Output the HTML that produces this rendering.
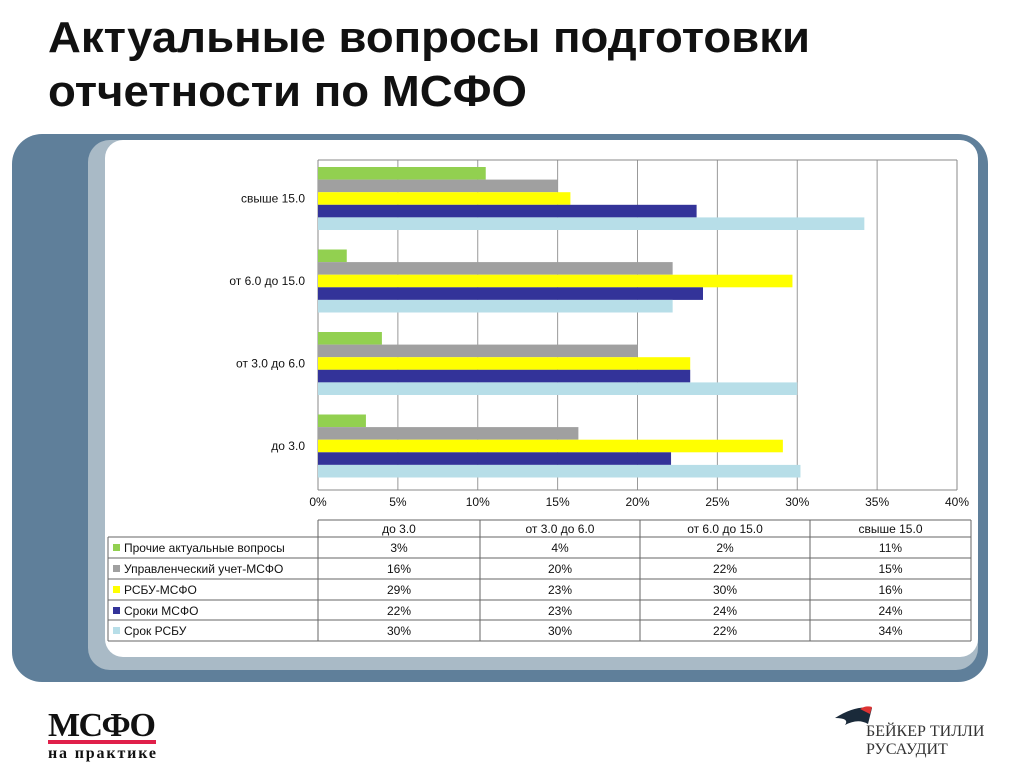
<!DOCTYPE html>
<html><head><meta charset="utf-8"><style>
body{margin:0;width:1024px;height:768px;background:#fff;overflow:hidden;font-family:"Liberation Sans","Noto Sans CJK SC",sans-serif}
</style></head><body>
<svg width="1024" height="768" xmlns="http://www.w3.org/2000/svg" font-family="Liberation Sans, sans-serif">
<g>
<text x="48" y="52" font-size="44" font-weight="bold" fill="#111" textLength="762" lengthAdjust="spacingAndGlyphs">Актуальные вопросы подготовки</text>
<text x="48" y="106" font-size="44" font-weight="bold" fill="#111" textLength="479" lengthAdjust="spacingAndGlyphs">отчетности по МСФО</text>
</g>
<rect x="12" y="134" width="976" height="548" rx="30" fill="#5f7f9a"/>
<rect x="88" y="140" width="890" height="530" rx="22" fill="#a9bac6"/>
<rect x="105" y="140" width="873" height="517" rx="18" fill="#fff"/>
<g id="chart"></g>
<g>
<text x="48" y="736" font-family="Liberation Serif, serif" font-size="34" font-weight="bold" fill="#111" textLength="108">МСФО</text>
<rect x="48" y="740" width="108" height="4" fill="#e0204a"/>
<text x="48" y="758" font-family="Liberation Serif, serif" font-size="16" font-weight="bold" fill="#111" textLength="108">на практике</text>
</g>
<g>
<path d="M835 718 Q855 705 872 708 L868 724 Q858 718 845 725 Q850 718 835 718Z" fill="#1a2a3a"/>
<path d="M860 709 Q866 705 872 707 L870 714Z" fill="#d33"/>
<text x="866" y="736" font-family="Liberation Serif, serif" font-size="16" fill="#333">БЕЙКЕР ТИЛЛИ</text>
<text x="866" y="754" font-family="Liberation Serif, serif" font-size="16" fill="#333">РУСАУДИТ</text>
</g>
</svg>
<script>
const categories=["до 3.0","от 3.0 до 6.0","от 6.0 до 15.0","свыше 15.0"];
const seriesNames=["Прочие актуальные вопросы","Управленческий учет-МСФО","РСБУ-МСФО","Сроки МСФО","Срок РСБУ"];
const other=[3,4,1.8,10.5];
const mgmt=[16.3,20,22.2,15];
const rsbuMsfo=[29.1,23.3,29.7,15.8];
const termsMsfo=[22.1,23.3,24.1,23.7];
const termsRsbu=[30.2,30,22.2,34.2];
const tableVals=[["3%","4%","2%","11%"],["16%","20%","22%","15%"],["29%","23%","30%","16%"],["22%","23%","24%","24%"],["30%","30%","22%","34%"]];
const ticks=[0,5,10,15,20,25,30,35,40];
const series=[other,mgmt,rsbuMsfo,termsMsfo,termsRsbu];
const colors=["#92d050","#a0a0a0","#ffff00","#333399","#b7dee8"];
const NS="http://www.w3.org/2000/svg";
const g=document.getElementById("chart");
const px0=318,px1=957,pTop=160,pBot=490;
const xs=v=>px0+(v/40)*(px1-px0);
const groupH=(pBot-pTop)/categories.length, barH=12.6;
function mk(t,a,p){const e=document.createElementNS(NS,t);for(const k in a)e.setAttribute(k,a[k]);(p||g).appendChild(e);return e;}
ticks.forEach(t=>{
 const l=mk("line",{x1:xs(t),x2:xs(t),y1:pTop,y2:pBot,stroke:t===0?"#888":"#999","stroke-width":1});
 
 
 const tx=mk("text",{x:xs(t),y:506,"font-size":12,"text-anchor":"middle",fill:"#111"});tx.textContent=t+"%";
 
 
});
mk("line",{x1:px1,x2:px1,y1:pTop,y2:pBot,stroke:"#888"});
mk("line",{x1:px0,x2:px1,y1:pTop,y2:pTop,stroke:"#888"});
mk("line",{x1:px0,x2:px1,y1:pBot,y2:pBot,stroke:"#888"});
categories.forEach((c,ci)=>{
 const gy=pBot-(ci+1)*groupH;
 const by=gy+7;
 series.forEach((s,si)=>{
  const r=mk("rect",{x:px0,y:by+si*barH,width:xs(s[ci])-px0,height:barH,fill:colors[si]});
  
  
 });
 const t=mk("text",{x:305,y:by+2.5*barH+4,"font-size":12,"text-anchor":"end",fill:"#111"});t.textContent=c;
 
 
});
const cols=[108,318,480,640,810,971], rows=[520,537,558,579,600,620,641];
const tb=mk("g",{});


mk("line",{x1:318,x2:971,y1:520,y2:520,stroke:"#666"},tb);
for(let r=1;r<rows.length;r++)mk("line",{x1:108,x2:971,y1:rows[r],y2:rows[r],stroke:"#666"},tb);
cols.forEach((c,i)=>mk("line",{x1:c,x2:c,y1:i===0?537:520,y2:641,stroke:"#666"},tb));
categories.forEach((c,ci)=>{const t=mk("text",{x:(cols[ci+1]+cols[ci+2])/2,y:533,"font-size":12,"text-anchor":"middle",fill:"#111"},tb);t.textContent=c;});
seriesNames.forEach((n,si)=>{
 const y=rows[si+1];
 mk("rect",{x:113,y:y+7,width:7,height:7,fill:colors[si]},tb);
 const t=mk("text",{x:124,y:y+15,"font-size":12,fill:"#111"},tb);t.textContent=n;
 
 
 tableVals[si].forEach((v,ci)=>{const tv=mk("text",{x:(cols[ci+1]+cols[ci+2])/2,y:y+15,"font-size":12,"text-anchor":"middle",fill:"#111"},tb);tv.textContent=v;});
});
</script>
</body></html>
